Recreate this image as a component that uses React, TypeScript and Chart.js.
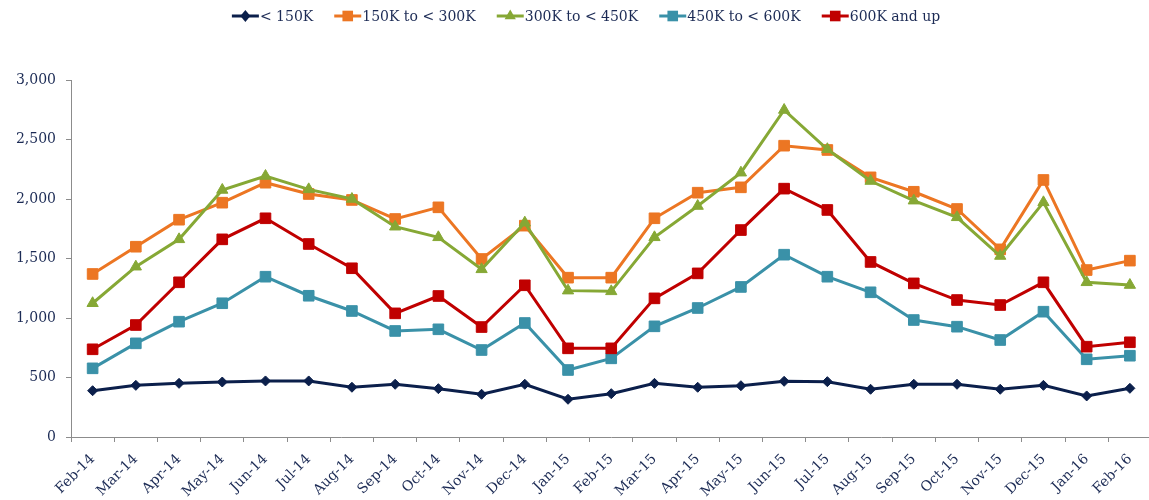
import React, { useEffect, useRef } from 'react';
import { Chart, registerables } from 'chart.js';

Chart.register(...registerables);

const categories = [
  'Feb-14', 'Mar-14', 'Apr-14', 'May-14', 'Jun-14', 'Jul-14', 'Aug-14', 'Sep-14', 'Oct-14', 'Nov-14', 'Dec-14',
  'Jan-15', 'Feb-15', 'Mar-15', 'Apr-15', 'May-15', 'Jun-15', 'Jul-15', 'Aug-15', 'Sep-15', 'Oct-15', 'Nov-15',
  'Dec-15', 'Jan-16', 'Feb-16',
];

const seriesLabels = ['< 150K', '150K to < 300K', '300K to < 450K', '450K to < 600K', '600K and up'];

const under150 = [389, 434, 451, 462, 471, 471, 418, 443, 406, 359, 443, 317, 364, 451, 418, 431, 468, 465, 401, 443, 443, 401, 434, 345, 409];
const from150to300 = [1370, 1599, 1826, 1969, 2137, 2042, 1992, 1832, 1930, 1496, 1776, 1339, 1339, 1838, 2053, 2098, 2448, 2412, 2182, 2061, 1916, 1577, 2160, 1403, 1482];
const from300to450 = [1124, 1431, 1661, 2076, 2193, 2081, 2000, 1767, 1678, 1409, 1801, 1230, 1224, 1678, 1941, 2221, 2748, 2418, 2151, 1986, 1846, 1521, 1972, 1300, 1277];
const from450to600 = [577, 787, 969, 1124, 1347, 1187, 1059, 891, 905, 731, 958, 563, 661, 930, 1084, 1261, 1532, 1347, 1216, 983, 927, 815, 1053, 653, 683];
const over600 = [737, 941, 1300, 1661, 1838, 1622, 1418, 1039, 1185, 924, 1275, 745, 745, 1165, 1375, 1739, 2087, 1908, 1471, 1291, 1151, 1109, 1300, 759, 796];

const yTicks = [0, 500, 1000, 1500, 2000, 2500, 3000];

const COLORS = ['#0B1F4B', '#EC7623', '#86A835', '#3A91A8', '#C00000'];
const STYLES = ['rectRot', 'rect', 'triangle', 'rect', 'rect'];
const RADII = [5, 7.5, 6.5, 7.5, 7.5];
const TEXT = '#1c2b55';
const AXIS = '#8c8c8c';
const FAMILY = '"DejaVu Serif", serif';

function drawMarker(ctx: CanvasRenderingContext2D, style: string, x: number, y: number, r: number, color: string) {
  ctx.fillStyle = color;
  ctx.beginPath();
  if (style === 'rectRot') {
    ctx.moveTo(x - r, y);
    ctx.lineTo(x, y - r - 1);
    ctx.lineTo(x + r, y);
    ctx.lineTo(x, y + r + 1);
    ctx.closePath();
  } else if (style === 'triangle') {
    const e = r * Math.sqrt(3) / 2;
    ctx.moveTo(x, y - r);
    ctx.lineTo(x + e, y + r / 2);
    ctx.lineTo(x - e, y + r / 2);
    ctx.closePath();
  } else {
    const s = Math.SQRT1_2 * r;
    ctx.rect(x - s, y - s, 2 * s, 2 * s);
  }
  ctx.fill();
}

const legendPlugin = {
  id: 'customLegend',
  afterDraw(chart: any) {
    const ctx: CanvasRenderingContext2D = chart.ctx;
    ctx.save();
    ctx.font = `14px ${FAMILY}`;
    const lineW = 27;
    const gap = 1;
    const spacing = 21;
    const items = chart.data.datasets.map((ds: any, i: number) => ({ ds, i, tw: ctx.measureText(ds.label).width }));
    const total = items.reduce((s: number, it: any) => s + lineW + gap + it.tw, 0) + spacing * (items.length - 1);
    let x = 586 - total / 2;
    const y = 16;
    for (const it of items) {
      ctx.strokeStyle = COLORS[it.i];
      ctx.lineWidth = 3;
      ctx.beginPath();
      ctx.moveTo(x, y);
      ctx.lineTo(x + lineW, y);
      ctx.stroke();
      drawMarker(ctx, STYLES[it.i], x + lineW / 2, y, RADII[it.i], COLORS[it.i]);
      ctx.fillStyle = TEXT;
      ctx.textBaseline = 'middle';
      ctx.textAlign = 'left';
      ctx.fillText(it.ds.label, x + lineW + gap, y + 1);
      x += lineW + gap + it.tw + spacing;
    }
    ctx.restore();
  },
};

export default function App() {
  const ref = useRef<HTMLCanvasElement | null>(null);

  useEffect(() => {
    if (!ref.current) return;
    const seriesData = [under150, from150to300, from300to450, from450to600, over600];
    const chart = new Chart(ref.current, {
      type: 'line',
      data: {
        labels: categories,
        datasets: seriesData.map((d, i) => ({
          label: seriesLabels[i],
          data: d,
          borderColor: COLORS[i],
          backgroundColor: COLORS[i],
          pointBackgroundColor: COLORS[i],
          pointBorderColor: COLORS[i],
          pointBorderWidth: 1,
          pointStyle: STYLES[i] as any,
          pointRadius: RADII[i],
          borderWidth: 3,
          tension: 0,
          fill: false,
          order: 5 - i,
        })),
      },
      options: {
        responsive: false,
        animation: false,
        layout: { padding: { top: 80, left: 0, right: 1, bottom: 0 } },
        plugins: {
          legend: { display: false },
          tooltip: { enabled: false },
        },
        scales: {
          x: {
            type: 'category',
            offset: true,
            grid: { display: true, drawOnChartArea: false, drawTicks: true, tickLength: 5, color: AXIS, offset: true },
            border: { color: AXIS, width: 1 },
            ticks: {
              color: TEXT,
              font: { family: FAMILY, size: 14 },
              maxRotation: 45,
              minRotation: 45,
              autoSkip: false,
              padding: 9,
            },
            afterFit: (s: any) => { s.height = 63; },
          },
          y: {
            min: 0,
            max: 3000,
            afterBuildTicks: (s: any) => { s.ticks = yTicks.map((v) => ({ value: v })); },
            ticks: {
              color: TEXT,
              font: { family: FAMILY, size: 14 },
              padding: 10,
              callback: (v: any) => Number(v).toLocaleString('en-US'),
            },
            grid: { display: true, drawOnChartArea: false, drawTicks: true, tickLength: 5, color: AXIS },
            border: { color: AXIS, width: 1 },
            afterFit: (s: any) => { s.width = 71; },
          },
        },
      },
      plugins: [legendPlugin],
    });
    return () => chart.destroy();
  }, []);

  return (
    <div style={{ position: 'absolute', left: 0, top: 0, width: 1149, height: 500, overflow: 'hidden', background: '#fff' }}>
      <canvas ref={ref} width={1160} height={500} style={{ display: 'block' }} />
    </div>
  );
}
